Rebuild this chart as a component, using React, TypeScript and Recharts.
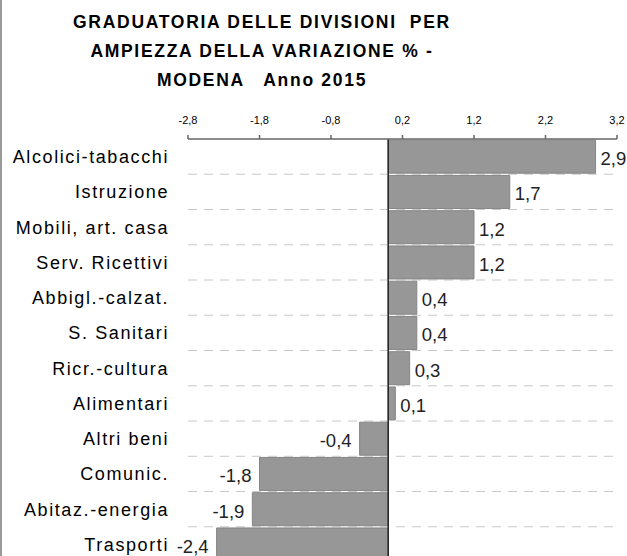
import { BarChart, Bar, XAxis, YAxis, CartesianGrid, ReferenceLine, LabelList } from 'recharts';

const categories = [
  'Alcolici-tabacchi',
  'Istruzione',
  'Mobili, art. casa',
  'Serv. Ricettivi',
  'Abbigl.-calzat.',
  'S. Sanitari',
  'Ricr.-cultura',
  'Alimentari',
  'Altri beni',
  'Comunic.',
  'Abitaz.-energia',
  'Trasporti',
];
const variations = [2.9, 1.7, 1.2, 1.2, 0.4, 0.4, 0.3, 0.1, -0.4, -1.8, -1.9, -2.4];
const xTicks = [-2.8, -1.8, -0.8, 0.2, 1.2, 2.2, 3.2];
const titleLines = ['GRADUATORIA DELLE DIVISIONI  PER', 'AMPIEZZA DELLA VARIAZIONE % -', 'MODENA   Anno 2015'];

const data = categories.map((name, i) => ({ name, value: variations[i] }));

const fmt = (v: number) => v.toFixed(1).replace('.', ',');

// value label outside the bar end, on the side of its sign
function ValueLabel(props: any) {
  const { x, y, width, height, value } = props;
  const left = Math.min(x, x + width);
  const right = Math.max(x, x + width);
  const pos = value >= 0;
  return (
    <text
      x={pos ? right + 5 : left - 8}
      y={y + height / 2 + 2}
      textAnchor={pos ? 'start' : 'end'}
      dominantBaseline="central"
      fontSize={18.5}
      fontFamily="'Liberation Sans', Arial, sans-serif"
      fill="#222"
    >
      {fmt(value)}
    </text>
  );
}

export default function App() {
  return (
    <div
      style={{
        position: 'absolute',
        left: 0,
        top: 0,
        width: 627,
        height: 556,
        overflow: 'hidden',
        background: '#fff',
        boxSizing: 'border-box',
        borderLeft: '2px solid #9a9a9a',
        fontFamily: "'Liberation Sans', Arial, sans-serif",
      }}
    >
      <div
        style={{
          position: 'absolute',
          left: 0,
          top: 8,
          width: 520,
          textAlign: 'center',
          fontWeight: 'bold',
          fontSize: 17.5,
          letterSpacing: 1.7,
          lineHeight: '29px',
          whiteSpace: 'pre',
          color: '#000',
        }}
      >
        {titleLines.map((t) => (
          <div key={t}>{t}</div>
        ))}
      </div>
      <div style={{ position: 'absolute', left: -2, top: 0 }}>
        <BarChart
          width={627}
          height={562}
          data={data}
          layout="vertical"
          margin={{ top: 100, right: 10, bottom: 0, left: 0 }}
          barCategoryGap={1.2}
        >
          <CartesianGrid
            vertical={false}
            stroke="#c8c8c8"
            strokeDasharray="9 7"
            horizontalCoordinatesGenerator={({ offset }: any) =>
              categories.slice(1).map((_, i) => offset.top + ((i + 1) * offset.height) / categories.length)
            }
          />
          <XAxis
            type="number"
            orientation="top"
            domain={[-2.8, 3.2]}
            ticks={xTicks}
            tickFormatter={fmt}
            height={39}
            tickSize={4}
            tickMargin={11}
            stroke="#666"
            strokeWidth={1.5}
            tick={{ fontSize: 11, fill: '#000', fontFamily: "'Liberation Sans', Arial, sans-serif" }}
            allowDataOverflow
          />
          <YAxis
            type="category"
            dataKey="name"
            width={188}
            axisLine={false}
            tickLine={false}
            tickSize={0}
            tickMargin={19}
            interval={0}
            tick={{
              fontSize: 18,
              fill: '#000',
              letterSpacing: 1.6,
              fontFamily: "'Liberation Sans', Arial, sans-serif",
            }}
          />
          <Bar dataKey="value" fill="#979797" stroke="#858585" strokeWidth={1} isAnimationActive={false}>
            <LabelList dataKey="value" content={ValueLabel} />
          </Bar>
          <ReferenceLine x={0} stroke="#222" strokeWidth={1.5} />
        </BarChart>
      </div>
    </div>
  );
}
